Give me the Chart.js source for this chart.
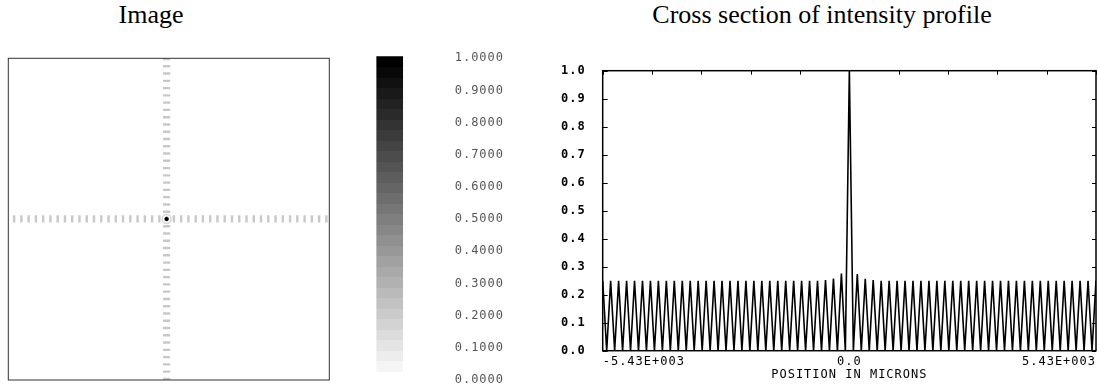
<!DOCTYPE html>
<html lang="en">
<head>
    <meta charset="UTF-8">
    <title>Image and cross section of intensity profile</title>
    <script src="https://cdn.jsdelivr.net/npm/chart.js"></script>
    <style>
        body { margin: 0; background: #fff; width: 1098px; height: 389px; overflow: hidden; position: relative; }
        .title {
            position: absolute; top: 0; height: 30px; line-height: 30px;
            font-family: "Liberation Serif", "Times New Roman", serif; font-size: 26px;
            text-align: center; color: #000; white-space: nowrap;
        }
        .box { position: absolute; top: 40px; height: 349px; }
    </style>
</head>
<body>
<div class="title" style="left: 51px; width: 200px;">Image</div>
<div class="title" style="left: 622px; width: 400px;">Cross section of intensity profile</div>

<div class="box" style="left: 0; width: 360px;"><canvas id="imageChart" width="360" height="349"></canvas></div>
<div class="box" style="left: 360px; width: 180px;"><canvas id="barChart" width="180" height="349"></canvas></div>
<div class="box" style="left: 540px; width: 558px;"><canvas id="profileChart" width="558" height="349"></canvas></div>

<script>
    // image: dash positions along the two arms (in fringe periods from the centre)
    const horizontalArm = [-21, -20, -19, -18, -17, -16, -15, -14, -13, -12, -11, -10, -9, -8, -7, -6, -5, -4, -3, -2, -1,
        1, 2, 3, 4, 5, 6, 7, 8, 9, 10, 11, 12, 13, 14, 15, 16, 17, 18, 19, 20, 21, 22];
    const verticalArm = [-22, -21, -20, -19, -18, -17, -16, -15, -14, -13, -12, -11, -10, -9, -8, -7, -6, -5, -4, -3, -2, -1,
        1, 2, 3, 4, 5, 6, 7, 8, 9, 10, 11, 12, 13, 14, 15, 16, 17, 18, 19, 20, 21, 22];

    // colour bar
    const colorbarRange = [0.026, 1.005];
    const colorbarTicks = [0, 0.1, 0.2, 0.3, 0.4, 0.5, 0.6, 0.7, 0.8, 0.9, 1.0];

    // cross section: position in microns and intensity
    const profilePositions = [
        -5430, -5342, -5255, -5167, -5080, -4992, -4904, -4817, -4729, -4642, -4554, -4467, -4379, -4291,
        -4204, -4116, -4029, -3941, -3854, -3766, -3678, -3591, -3503, -3416, -3328, -3240, -3153, -3065,
        -2978, -2890, -2803, -2715, -2627, -2540, -2452, -2365, -2277, -2190, -2102, -2014, -1927, -1839,
        -1752, -1664, -1576, -1489, -1401, -1314, -1226, -1139, -1051, -963, -876, -788,
        -701, -613, -525, -438, -350, -263, -175, -88,
        0,
        88, 175, 263, 350, 438, 525, 613, 701,
        788, 876, 963, 1051, 1139, 1226, 1314, 1401, 1489, 1576, 1664, 1752,
        1839, 1927, 2014, 2102, 2190, 2277, 2365, 2452, 2540, 2627, 2715, 2803, 2890, 2978,
        3065, 3153, 3240, 3328, 3416, 3503, 3591, 3678, 3766, 3854, 3941, 4029, 4116, 4204,
        4291, 4379, 4467, 4554, 4642, 4729, 4817, 4904, 4992, 5080, 5167, 5255, 5342, 5430
    ];
    const profileIntensity = [
        0.25, 0, 0.25, 0, 0.25, 0, 0.25, 0, 0.25, 0, 0.25, 0, 0.25, 0,
        0.25, 0, 0.25, 0, 0.25, 0, 0.25, 0, 0.25, 0, 0.25, 0, 0.25, 0,
        0.25, 0, 0.25, 0, 0.25, 0, 0.25, 0, 0.25, 0, 0.25, 0, 0.25, 0,
        0.25, 0, 0.25, 0, 0.25, 0, 0.25, 0, 0.25, 0, 0.25, 0, 0.25, 0,
        0.252, 0, 0.258, 0, 0.276, 0,
        1.0,
        0, 0.274, 0, 0.257, 0, 0.252,
        0, 0.25, 0, 0.25, 0, 0.25, 0, 0.25, 0, 0.25, 0, 0.25, 0, 0.25,
        0, 0.25, 0, 0.25, 0, 0.25, 0, 0.25, 0, 0.25, 0, 0.25, 0, 0.25,
        0, 0.25, 0, 0.25, 0, 0.25, 0, 0.25, 0, 0.25, 0, 0.25, 0, 0.25,
        0, 0.25, 0, 0.25, 0, 0.25, 0, 0.25, 0, 0.25, 0, 0.25, 0, 0.25
    ];
    const xTickValues = [-5430, 0, 5430];
    const xTickLabels = ['-5.43E+003', '0.0', '5.43E+003'];

    Chart.defaults.font.family = "'DejaVu Sans Mono', monospace";
    Chart.defaults.animation = false;

    const noPadding = (s) => { s.paddingTop = 0; s.paddingBottom = 0; s.paddingLeft = 0; s.paddingRight = 0; };

    // frame round the chart area, with small ticks pointing inwards
    const frameTicks = {
        id: 'frameTicks',
        afterDatasetsDraw(chart, args, opts) {
            const {ctx, chartArea: a} = chart;
            ctx.save();
            ctx.strokeStyle = opts.color;
            ctx.lineWidth = opts.width;
            ctx.strokeRect(a.left, a.top, a.right - a.left, a.bottom - a.top);
            if (opts.ticks) {
                const xs = chart.scales.x, ys = chart.scales.y;
                ctx.lineWidth = 1;
                ctx.beginPath();
                xs.ticks.forEach(t => {
                    const px = Math.round(xs.getPixelForValue(t.value)) + 0.5;
                    ctx.moveTo(px, a.top); ctx.lineTo(px, a.top + 4);
                });
                ys.ticks.forEach(t => {
                    const py = Math.round(ys.getPixelForValue(t.value)) + 0.5;
                    ctx.moveTo(a.left, py); ctx.lineTo(a.left + 5, py);
                    ctx.moveTo(a.right, py); ctx.lineTo(a.right - 4, py);
                });
                ctx.stroke();
            }
            ctx.restore();
        }
    };

    // wider letter spacing like the plotter font
    const spacing = {
        id: 'spacing',
        beforeDraw(chart) { chart.ctx.letterSpacing = '1px'; },
        afterDraw(chart) { chart.ctx.letterSpacing = '0px'; }
    };

    // Image panel
    new Chart(document.getElementById('imageChart'), {
        type: 'scatter',
        data: {
            datasets: [{
                data: horizontalArm.map(k => ({x: k, y: 0})),
                pointStyle: 'line', rotation: 90, pointRadius: 3.6,
                borderColor: '#c8c8c8', borderWidth: 2.4
            }, {
                data: verticalArm.map(k => ({x: 0, y: k})),
                pointStyle: 'line', rotation: 0, pointRadius: 3.6,
                borderColor: '#c8c8c8', borderWidth: 2.4
            }, {
                data: [{x: 0, y: 0}],
                pointStyle: 'circle', pointRadius: 4.5,
                borderColor: '#d6d6d6', borderWidth: 1.5, backgroundColor: 'rgba(0,0,0,0)'
            }, {
                data: [{x: 0, y: 0}],
                pointStyle: 'circle', pointRadius: 2,
                borderColor: '#000', borderWidth: 0.5, backgroundColor: '#000'
            }]
        },
        options: {
            responsive: false,
            layout: { padding: { left: 8.3, right: 30.7, top: 18.3, bottom: 9 } },
            scales: {
                x: { type: 'linear', min: -21.8, max: 22.4, display: false },
                y: { type: 'linear', min: -22.15, max: 22.1, display: false }
            },
            plugins: {
                legend: { display: false },
                tooltip: { enabled: false },
                frameTicks: { color: '#333', width: 1, ticks: false }
            }
        },
        plugins: [frameTicks]
    });

    // colour bar
    new Chart(document.getElementById('barChart'), {
        type: 'bar',
        data: {
            labels: [''],
            datasets: [{
                data: [colorbarRange],
                clip: false,
                borderWidth: 0,
                backgroundColor: (c) => {
                    const chart = c.chart;
                    if (!chart.chartArea) return '#888';
                    const ys = chart.scales.y;
                    const top = ys.getPixelForValue(colorbarRange[1]);
                    const bottom = ys.getPixelForValue(colorbarRange[0]);
                    const g = chart.ctx.createLinearGradient(0, top, 0, bottom);
                    const n = 30;
                    for (let i = 0; i < n; i++) {
                        const v = Math.round(245 * i / (n - 1));
                        const col = `rgb(${v},${v},${v})`;
                        g.addColorStop(i / n, col);
                        g.addColorStop((i + 1) / n, col);
                    }
                    return g;
                },
                barPercentage: 1,
                categoryPercentage: 1
            }]
        },
        options: {
            responsive: false,
            layout: { padding: { left: 16.7, right: 0, top: 18.3, bottom: 9 } },
            scales: {
                x: { display: false, afterFit: noPadding },
                y: {
                    position: 'right', min: 0, max: 1,
                    afterBuildTicks: (s) => { s.ticks = colorbarTicks.map(v => ({value: v})); },
                    afterFit: (s) => { s.width = 137.3; noPadding(s); },
                    grid: { display: false, drawTicks: false },
                    border: { display: false },
                    ticks: {
                        padding: 52,
                        color: '#555',
                        font: { size: 12 },
                        callback: (v) => Number(v).toFixed(4)
                    }
                }
            },
            plugins: { legend: { display: false }, tooltip: { enabled: false } }
        },
        plugins: [spacing]
    });

    // cross section
    new Chart(document.getElementById('profileChart'), {
        type: 'line',
        data: {
            datasets: [{
                data: profilePositions.map((x, i) => ({x: x, y: profileIntensity[i]})),
                borderColor: '#000',
                borderWidth: 1.6,
                pointRadius: 0,
                tension: 0
            }]
        },
        options: {
            responsive: false,
            layout: { padding: { left: 0, right: 2, top: 30.7, bottom: 0 } },
            scales: {
                x: {
                    type: 'linear', min: -5430, max: 5430,
                    afterFit: (s) => { s.height = 38.3; noPadding(s); },
                    grid: { display: false, drawTicks: false },
                    border: { display: false },
                    ticks: {
                        stepSize: 1086, autoSkip: false, maxRotation: 0, align: 'inner',
                        padding: 4, color: '#000', font: { size: 12 },
                        callback: (v) => {
                            const i = xTickValues.indexOf(v);
                            return i >= 0 ? xTickLabels[i] : '';
                        }
                    },
                    title: {
                        display: true, text: 'POSITION IN MICRONS', color: '#000',
                        font: { size: 12 }, padding: { top: 0, bottom: 6.5 }
                    }
                },
                y: {
                    min: 0, max: 1,
                    afterFit: (s) => { s.width = 62.7; noPadding(s); },
                    grid: { display: false, drawTicks: false },
                    border: { display: false },
                    ticks: {
                        stepSize: 0.1, padding: 17, color: '#000',
                        font: { size: 12, weight: 'bold' },
                        callback: (v) => Number(v).toFixed(1)
                    }
                }
            },
            plugins: {
                legend: { display: false },
                tooltip: { enabled: false },
                frameTicks: { color: '#000', width: 1.5, ticks: true }
            }
        },
        plugins: [frameTicks, spacing]
    });
</script>
</body>
</html>
